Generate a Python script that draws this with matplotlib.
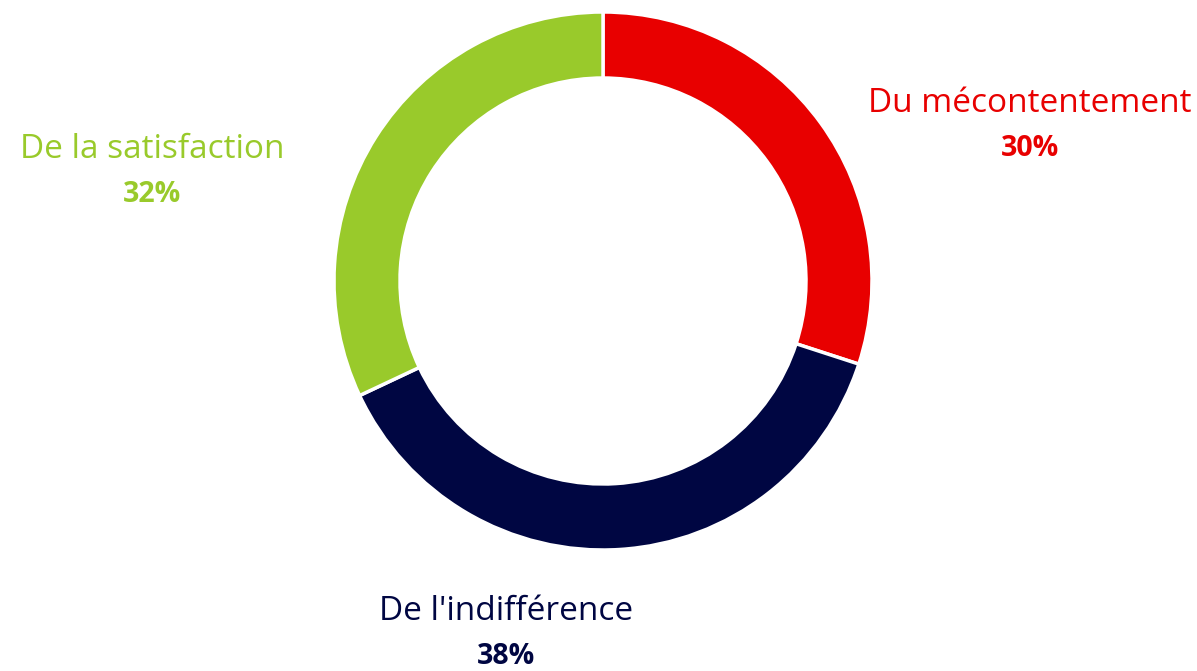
import matplotlib
matplotlib.use("Agg")
import matplotlib.pyplot as plt

categories = ["Du mécontentement", "De l'indifférence", "De la satisfaction"]
values = [30, 38, 32]
pct_labels = ["30%", "38%", "32%"]
colors = ["#E80000", "#000642", "#99CA2B"]

W, H = 1197, 671
fig = plt.figure(figsize=(W / 100, H / 100), dpi=100)
ax = fig.add_axes([0, 0, 1, 1])
ax.set_xlim(0, W)
ax.set_ylim(0, H)
ax.set_aspect("equal")
ax.axis("off")

cx, cy, r = 603, H - 281, 269
ax.pie(values, colors=colors, startangle=90, counterclock=False,
       center=(cx, cy), radius=r,
       wedgeprops=dict(width=66, edgecolor="white", linewidth=2.5))
ax.set_xlim(0, W)
ax.set_ylim(0, H)

label_pos = [(1030, 104), (506, 612), (152, 149)]
font = ["Open Sans", "DejaVu Sans"]
for name, pct, col, (x, y) in zip(categories, pct_labels, colors, label_pos):
    ax.text(x, H - y, name, color=col, fontsize=24, ha="center", va="center", family=font)
    ax.text(x, H - y - 45, pct, color=col, fontsize=20.5, fontweight="bold",
            ha="center", va="center", family=font)

fig.savefig("out.png", dpi=100)
